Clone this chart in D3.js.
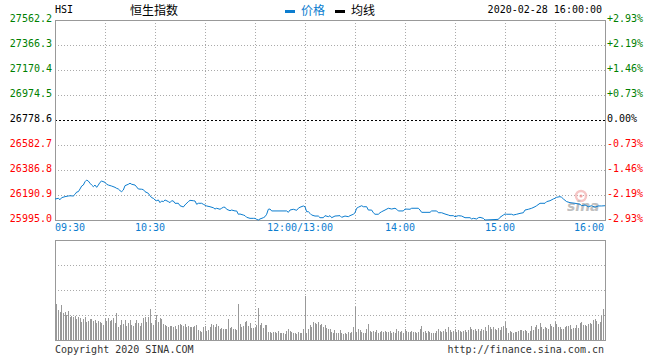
<!DOCTYPE html>
<html><head><meta charset="utf-8">
<script src="https://cdn.jsdelivr.net/npm/d3@7/dist/d3.min.js"></script>
<style>
html,body{margin:0;padding:0;background:#fff;}
svg{display:block;}
text{font-family:"DejaVu Sans Mono",monospace;font-size:10px;}
.cjk{font-family:"Noto Sans CJK SC",sans-serif;font-size:12px;}
</style></head>
<body>
<svg id="c" width="660" height="360"></svg>
<script>
// ---- data ----
const symbol = "HSI";
const title = "恒生指数";
const stamp = "2020-02-28 16:00:00";
const prevClose = 26778.6;
const priceTicks = [27562.2, 27366.3, 27170.4, 26974.5, 26778.6, 26582.7, 26386.8, 26190.9, 25995.0];
const pctTicks = ["+2.93%", "+2.19%", "+1.46%", "+0.73%", "0.00%", "-0.73%", "-1.46%", "-2.19%", "-2.93%"];
const timeLabels = ["09:30", "10:30", "12:00/13:00", "14:00", "15:00", "16:00"];
const timeLabelMinutes = [0, 60, 150, 210, 270, 330];
// minutes since 09:30 (trading minutes, lunch removed) and index price
const priceMinutes = [0,2,3,4,6,8,9,11,12,13,14,15,16,17,18,19,20,21,22,23,24,25,26,27,28,30,31,32,34,36,37,38,39,40,41,42,44,45,46,48,49,50,52,53,54,56,57,58,59,60,61,62,63,64,65,66,68,69,70,71,72,74,75,77,78,80,81,83,84,85,86,88,89,91,93,95,96,97,99,100,101,102,103,105,106,108,109,110,111,113,114,115,117,119,120,121,122,123,125,126,127,128,129,130,139,140,141,143,145,146,147,149,150,151,152,153,154,156,158,159,161,162,164,165,166,168,171,172,174,176,177,179,180,181,182,184,185,187,188,190,191,192,194,195,196,198,200,202,204,205,206,209,210,213,214,218,219,220,225,226,229,230,232,234,236,237,239,240,242,244,246,249,250,251,253,254,255,257,258,266,267,269,270,271,274,275,277,279,281,282,284,286,288,289,291,294,295,297,299,300,301,303,304,305,307,309,312,315,316,318,320,322,324,326,328,330];
const prices = [26159,26165,26154,26170,26178,26183,26185,26183,26196,26214,26217,26238,26261,26269,26295,26308,26300,26283,26269,26256,26269,26251,26269,26290,26300,26290,26275,26269,26261,26251,26243,26238,26225,26217,26230,26264,26275,26283,26275,26269,26254,26238,26236,26233,26217,26204,26185,26170,26165,26152,26146,26152,26131,26144,26139,26152,26139,26131,26146,26144,26126,26126,26107,26097,26113,26139,26149,26146,26144,26118,26126,26126,26118,26105,26099,26091,26081,26087,26079,26087,26095,26095,26079,26068,26073,26066,26066,26040,26042,26034,26029,26016,26008,26008,26008,26000,25995,26003,26013,26021,26040,26079,26081,26066,26066,26055,26073,26079,26071,26087,26095,26105,26099,26060,26060,26047,26034,26026,26026,26013,26013,26029,26021,26029,26013,26026,26029,26016,26026,26021,26029,26040,26052,26087,26095,26107,26099,26099,26073,26073,26052,26040,26040,26052,26060,26073,26087,26081,26087,26079,26066,26066,26081,26079,26087,26087,26073,26055,26055,26066,26066,26052,26052,26042,26034,26029,26029,26021,26029,26026,26013,26013,26003,26008,26003,26013,26016,26008,25995,26000,26016,26034,26042,26040,26040,26034,26040,26047,26052,26073,26079,26087,26099,26107,26126,26126,26139,26146,26160,26165,26173,26178,26173,26160,26139,26131,26126,26118,26107,26113,26099,26107,26095,26105,26105,26107];
// per-minute volume (relative units), minute 1 .. 329
const volumes = [36,30,28,35,27,28,25,29,23,24,23,24,21,23,22,18,21,23,18,19,21,21,19,20,17,19,18,17,15,22,19,22,19,20,22,17,27,13,15,20,16,20,14,17,20,15,14,17,20,17,14,17,22,23,18,23,31,17,15,20,25,18,22,21,16,15,14,13,14,14,13,14,11,15,16,15,14,16,13,14,13,13,13,14,15,10,9,8,13,14,9,10,13,16,15,13,16,14,11,12,11,11,11,21,12,13,11,11,10,36,16,13,14,18,19,14,17,12,12,12,15,32,15,17,12,15,15,8,8,7,8,8,7,9,7,7,7,6,9,11,9,8,7,7,6,8,7,7,11,44,7,11,15,13,18,17,16,18,15,16,13,15,12,11,
11,8,7,10,7,7,10,7,6,7,6,8,7,8,13,33,8,11,10,8,7,7,11,16,9,8,9,8,10,7,8,9,8,9,8,8,9,7,8,7,11,9,8,9,7,11,9,8,8,9,8,8,7,8,11,14,8,9,7,9,8,7,7,7,9,11,9,8,9,11,8,13,10,8,9,11,8,10,9,8,9,10,8,10,13,11,10,11,9,11,9,11,10,13,9,15,13,11,13,11,10,12,10,13,14,18,12,7,9,8,7,8,8,9,10,10,9,10,9,7,9,14,10,13,15,11,17,13,11,13,12,11,16,14,13,18,16,13,13,11,11,13,14,14,15,11,12,12,15,12,17,18,15,15,14,16,17,16,20,21,19,16,18,24,31];

// ---- layout ----
const L = 55, R = 605, PT = 20, PB = 220, VT = 240, VB = 340;
const BLUE = "#0c7dcf", GRID = "#aaa", BORDER = "#999";
const svg = d3.select("#c");
const x = d3.scaleLinear().domain([0, 330]).range([L, R]);
const y = d3.scaleLinear().domain([priceTicks[priceTicks.length-1], priceTicks[0]]).range([PB, PT]);
const yv = d3.scaleLinear().domain([0, 100]).range([VB, VT]);
const px = v => Math.round(v) + 0.5;

const gridMinutes = d3.range(30, 330, 30);
const g = svg.append("g").attr("shape-rendering", "crispEdges");

// price grid
g.selectAll(".hg").data(priceTicks.slice(1, -1)).join("line")
  .attr("x1", L).attr("x2", R)
  .attr("y1", d => px(y(d))).attr("y2", d => px(y(d)))
  .attr("stroke", d => d === prevClose ? "#000" : GRID)
  .attr("stroke-dasharray", d => d === prevClose ? "2,2" : "1,2");
g.selectAll(".vg").data(gridMinutes).join("line")
  .attr("x1", d => px(x(d))).attr("x2", d => px(x(d)))
  .attr("y1", PT).attr("y2", PB)
  .attr("stroke", GRID).attr("stroke-dasharray", "1,2");
// volume grid
g.selectAll(".vhg").data([25, 50, 75]).join("line")
  .attr("x1", L).attr("x2", R)
  .attr("y1", d => px(yv(d))).attr("y2", d => px(yv(d)))
  .attr("stroke", GRID).attr("stroke-dasharray", "1,2");
g.selectAll(".vvg").data(gridMinutes).join("line")
  .attr("x1", d => px(x(d))).attr("x2", d => px(x(d)))
  .attr("y1", VT).attr("y2", VB)
  .attr("stroke", GRID).attr("stroke-dasharray", "1,2");

// volume bars
g.selectAll(".vb").data(volumes).join("rect")
  .attr("x", (d, i) => Math.floor(x(i + 1)))
  .attr("width", 1)
  .attr("y", d => Math.round(yv(d)))
  .attr("height", d => VB - Math.round(yv(d)))
  .attr("fill", "#999");

// borders
g.append("rect").attr("x", L + 0.5).attr("y", PT + 0.5).attr("width", R - L).attr("height", PB - PT)
  .attr("fill", "none").attr("stroke", BORDER);
g.append("rect").attr("x", L + 0.5).attr("y", VT + 0.5).attr("width", R - L).attr("height", VB - VT)
  .attr("fill", "none").attr("stroke", BORDER);

// watermark
const wm = svg.append("g").attr("opacity", 0.75);
wm.append("circle").attr("cx", 581).attr("cy", 196).attr("r", 5).attr("fill", "none").attr("stroke", "#f4b4b4").attr("stroke-width", 2.5);
wm.append("circle").attr("cx", 581).attr("cy", 196).attr("r", 1.6).attr("fill", "#e88");
wm.append("text").attr("x", 567).attr("y", 210.5).text("sina")
  .style("font-family", "DejaVu Sans").style("font-size", "14px").style("font-weight", "bold").style("font-style", "italic")
  .attr("fill", "#aaa");

// price line
const pts = priceMinutes.map((m, i) => [m, prices[i]]);
svg.append("path").datum(pts)
  .attr("fill", "none").attr("stroke", BLUE).attr("stroke-width", 1)
  .attr("d", d3.line().x(d => x(d[0])).y(d => y(d[1])));

// left axis labels
svg.selectAll(".yl").data(priceTicks).join("text")
  .attr("x", 52).attr("y", d => y(d) + 2)
  .attr("text-anchor", "end")
  .attr("fill", d => d > prevClose ? "#008000" : d < prevClose ? "#f00" : "#000")
  .text(d => d.toFixed(1));
// right axis labels
svg.selectAll(".yr").data(pctTicks).join("text")
  .attr("x", 607).attr("y", (d, i) => y(priceTicks[i]) + 2)
  .attr("fill", (d, i) => priceTicks[i] > prevClose ? "#008000" : priceTicks[i] < prevClose ? "#f00" : "#000")
  .text(d => d);

// time labels
svg.selectAll(".tl").data(timeLabels).join("text")
  .attr("x", (d, i) => i === 0 ? L : i === timeLabels.length - 1 ? R - 1 : x(timeLabelMinutes[i]) - 5)
  .attr("y", 231)
  .attr("text-anchor", (d, i) => i === 0 ? "start" : i === timeLabels.length - 1 ? "end" : "middle")
  .attr("fill", BLUE)
  .text(d => d);

// header
svg.append("text").attr("x", 55).attr("y", 13).attr("fill", "#000").text(symbol);
svg.append("text").attr("class", "cjk").attr("x", 130).attr("y", 14.5).attr("fill", "#000").text(title);
svg.append("rect").attr("x", 285).attr("y", 10).attr("width", 10).attr("height", 3).attr("fill", BLUE);
svg.append("text").attr("class", "cjk").attr("x", 301).attr("y", 15).attr("fill", BLUE).text("价格");
svg.append("rect").attr("x", 335).attr("y", 10).attr("width", 10).attr("height", 3).attr("fill", "#000");
svg.append("text").attr("class", "cjk").attr("x", 351).attr("y", 15).attr("fill", "#000").text("均线");
svg.append("text").attr("x", 602).attr("y", 13).attr("text-anchor", "end").attr("fill", "#000").text(stamp);

// footer
svg.append("text").attr("x", 55).attr("y", 353).attr("fill", "#333").text("Copyright 2020 SINA.COM");
svg.append("text").attr("x", 604).attr("y", 353).attr("text-anchor", "end").attr("fill", "#333").text("http://finance.sina.com.cn");
</script>
</body></html>
